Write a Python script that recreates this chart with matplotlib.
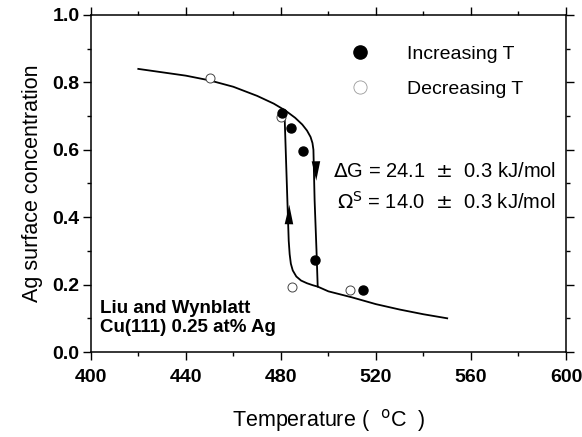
import matplotlib.pyplot as plt
from matplotlib.lines import Line2D

plt.rcParams["font.family"] = ["Liberation Sans", "DejaVu Sans"]

# measured points
inc_T = [480.4, 484.3, 489.5, 494.5, 514.4]
inc_c = [0.710, 0.666, 0.597, 0.273, 0.184]
dec_T = [450.0, 480.1, 484.6, 509.1]
dec_c = [0.814, 0.698, 0.194, 0.184]

# model curve: heating branch (upper curve, drop, lower tail)
heat_T = [420, 430, 440, 450, 460, 470, 477, 482, 486, 489, 491, 492.5, 493.3, 493.7,
          494.2, 495.0, 495.5, 500, 505, 510, 520, 530, 540, 550]
heat_c = [0.840, 0.830, 0.820, 0.806, 0.787, 0.760, 0.737, 0.716, 0.695, 0.675, 0.657,
          0.638, 0.620, 0.600, 0.450, 0.300, 0.194, 0.180, 0.171, 0.162, 0.142, 0.126,
          0.112, 0.100]
# cooling branch (left rise)
cool_T = [481.5, 482.5, 483.3, 483.7, 484.2, 485.0, 486.5, 488.5, 491.0, 493.5, 495.5]
cool_c = [0.715, 0.500, 0.330, 0.290, 0.262, 0.242, 0.224, 0.212, 0.204, 0.198, 0.194]

fig = plt.figure(figsize=(5.82, 4.37), dpi=100)
ax = fig.add_axes([0.156, 0.1945, 0.8165, 0.7712])

ax.plot(heat_T, heat_c, color="black", lw=1.3)
ax.plot(cool_T, cool_c, color="black", lw=1.3)

# direction arrows on the vertical parts
ax.annotate("", xy=(483.55, 0.445), xytext=(483.4, 0.38),
            arrowprops=dict(arrowstyle="-|>,head_length=1.0,head_width=0.22",
                            color="black", lw=0, mutation_scale=14))
ax.annotate("", xy=(494.9, 0.50), xytext=(494.75, 0.57),
            arrowprops=dict(arrowstyle="-|>,head_length=1.0,head_width=0.22",
                            color="black", lw=0, mutation_scale=14))

ax.plot(dec_T, dec_c, "o", ms=6.5, mfc="white", mec="#444444", mew=0.7)
ax.plot(inc_T, inc_c, "o", ms=6.5, mfc="black", mec="black")

handles = [
    Line2D([], [], ls="none", marker="o", ms=9.5, mfc="black", mec="black"),
    Line2D([], [], ls="none", marker="o", ms=9.5, mfc="white", mec="#999999", mew=0.6),
]
ax.legend(handles, ["Increasing T", "Decreasing T"], loc="upper left",
          bbox_to_anchor=(0.5356, 0.91), frameon=False, fontsize=14,
          handlelength=1.5, handletextpad=1.65, labelspacing=0.9, borderaxespad=0,
          borderpad=0)

ax.text(502.0, 0.535, r"$\Delta$G = 24.1  $\pm$  0.3 kJ/mol", fontsize=14.5, va="center")
ax.text(503.5, 0.446, r"$\Omega^{\rm S}$ = 14.0  $\pm$  0.3 kJ/mol", fontsize=14.5, va="center")
ax.text(404, 0.116, "Liu and Wynblatt", fontsize=13.5, fontweight="bold", va="baseline")
ax.text(404, 0.059, "Cu(111) 0.25 at% Ag", fontsize=13.5, fontweight="bold", va="baseline")

ax.set_xlim(400, 600)
ax.set_ylim(0, 1.0)
ax.set_xticks([400, 440, 480, 520, 560, 600])
ax.set_xticks([420, 460, 500, 540, 580], minor=True)
ax.set_yticks([0.0, 0.2, 0.4, 0.6, 0.8, 1.0])
ax.set_yticks([0.1, 0.3, 0.5, 0.7, 0.9], minor=True)
ax.set_yticklabels(["0.0", "0.2", "0.4", "0.6", "0.8", "1.0"])
ax.tick_params(which="both", direction="out", top=True, right=True, width=1)
ax.tick_params(which="major", length=6, labelsize=14)
ax.tick_params(axis="x", which="major", pad=6)
ax.tick_params(axis="y", which="major", pad=2)
ax.tick_params(which="minor", length=3)
for lab in ax.get_xticklabels() + ax.get_yticklabels():
    lab.set_fontweight("bold")
for sp in ax.spines.values():
    sp.set_linewidth(1.1)

ax.set_xlabel(r"Temperature (  $^{\rm o}$C  )", fontsize=15.5, labelpad=15)
ax.set_ylabel("Ag surface concentration", fontsize=15.5, labelpad=7)

fig.savefig("out.png", dpi=100)
